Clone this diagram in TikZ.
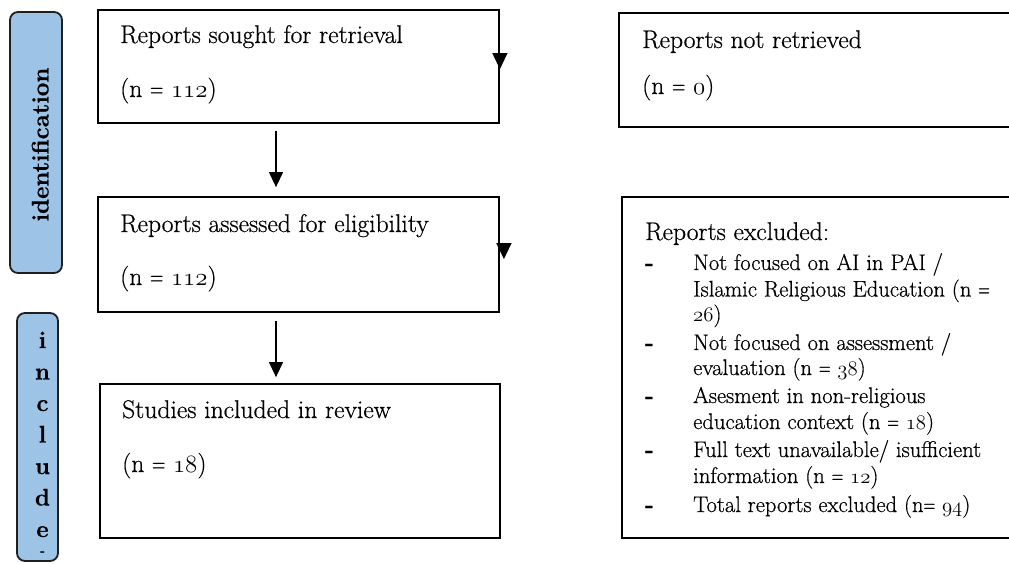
\documentclass[tikz,border=0pt]{standalone}
\usepackage{fontspec}
\setmainfont{Latin Modern Roman}[FakeBold=0.6]
\usetikzlibrary{arrows.meta}
\definecolor{sidefill}{HTML}{9DC3E6}
\definecolor{sideline}{HTML}{1F1F1F}
\tikzset{
  flowbox/.style={draw=black, line width=1.8pt, rectangle, inner sep=0pt},
  sidebox/.style={draw=sideline, fill=sidefill, line width=1.8pt, rounded corners=8pt, rectangle, inner sep=0pt},
  bigtxt/.style={anchor=base west, inner sep=0pt, font=\fontsize{25.6}{30}\selectfont},
  listtxt/.style={anchor=base west, inner sep=0pt, font=\fontsize{22.6}{27}\selectfont},
  sidetxt/.style={inner sep=0pt, font=\fontsize{24}{28}\selectfont\bfseries},
  smalltxt/.style={inner sep=0pt, font=\fontsize{12}{14}\selectfont\bfseries},
  arr/.style={line width=1.3pt, -{Triangle[width=14pt,length=15pt]}},
  sidearr/.style={line width=1.3pt, -{Triangle[width=15pt,length=16pt]}}
}
\newcommand{\os}[1]{{\fontencoding{OML}\fontfamily{cmm}\fontseries{m}\fontshape{it}\selectfont #1}}
\newcommand{\eqs}{\scalebox{0.72}[1]{=}}
\begin{document}
\begin{tikzpicture}[x=1pt,y=-1pt]
\useasboundingbox (0,0) rectangle (1009,563);
\clip (0,0) rectangle (1009,563);

% side bars
\node[sidebox, minimum width=52pt, minimum height=261pt] (ident) at (36,142.5) {};
\node[sidetxt, rotate=90, anchor=base] (identtxt) at (48.5,144.5) {identification};
\node[sidebox, minimum width=41pt, minimum height=248pt] (incl) at (37.5,437) {};
\foreach \l [count=\k from 0] in {i,n,c,l,u,d,e}{
  \node[sidetxt, anchor=base] (inc\k) at (42.5,348+31.5*\k) {\l};
}
\node[smalltxt, anchor=center] (inc7) at (42.5,553) {-};

% boxes
\node[flowbox, minimum width=401pt, minimum height=113pt] (sought) at (298.5,66.5) {};
\node[flowbox, minimum width=396pt, minimum height=114pt] (notret) at (817,70) {};
\node[flowbox, minimum width=401pt, minimum height=115pt] (assessed) at (298.5,254.5) {};
\node[flowbox, minimum width=394pt, minimum height=341pt] (excluded) at (819,367.5) {};
\node[flowbox, minimum width=400pt, minimum height=154pt] (included) at (300,461) {};

% box texts
\node[bigtxt] (t1a) at (120,43) {Reports sought for retrieval};
\node[bigtxt] (t1b) at (120,97) {(n \eqs{} \os{112})};
\node[bigtxt] (t2a) at (642,48) {Reports not retrieved};
\node[bigtxt] (t2b) at (642,94) {(n \eqs{} \os{0})};
\node[bigtxt] (t3a) at (120,232) {Reports assessed for eligibility};
\node[bigtxt] (t3b) at (120,285) {(n \eqs{} \os{112})};
\node[bigtxt] (t4a) at (122,418) {Studies included in review};
\node[bigtxt] (t4b) at (122,472) {(n \eqs{} \os{18})};

% excluded list
\node[bigtxt] (exh) at (645,240) {Reports excluded:};
\node[listtxt] (d1) at (645,270) {\textbf{-}};
\node[listtxt] (e1a) at (693,270) {Not focused on AI in PAI /};
\node[listtxt] (e1b) at (693,296.5) {Islamic Religious Education (n \eqs};
\node[listtxt] (e1c) at (693,321.5) {\os{26})};
\node[listtxt] (d2) at (645,350) {\textbf{-}};
\node[listtxt] (e2a) at (693,350) {Not focused on assessment /};
\node[listtxt] (e2b) at (693,375) {evaluation (n \eqs{} \os{38})};
\node[listtxt] (d3) at (645,403) {\textbf{-}};
\node[listtxt] (e3a) at (693,403) {Asesment in non-religious};
\node[listtxt] (e3b) at (693,429) {education context (n \eqs{} \os{18})};
\node[listtxt] (d4) at (645,457) {\textbf{-}};
\node[listtxt] (e4a) at (693,457) {Full text unavailable/ isufficient};
\node[listtxt] (e4b) at (693,483) {information (n \eqs{} \os{12})};
\node[listtxt] (d5) at (645,512) {\textbf{-}};
\node[listtxt] (e5a) at (693,512) {Total reports excluded (n\eqs{} \os{94})};

% connectors
\coordinate (ax) at (276,0);
\draw[arr, shorten <=7pt, shorten >=9pt] (sought.south -| ax) -- (assessed.north -| ax);
\draw[arr, shorten <=8pt, shorten >=6pt] (assessed.south -| ax) -- (included.north -| ax);

% stray arrowheads on right edges
\draw[sidearr] ([yshift=-44pt]sought.north east) -- ([yshift=-60pt]sought.north east);
\draw[sidearr] ([xshift=4pt,yshift=-47pt]assessed.north east) -- ([xshift=4pt,yshift=-63pt]assessed.north east);
\end{tikzpicture}
\end{document}
